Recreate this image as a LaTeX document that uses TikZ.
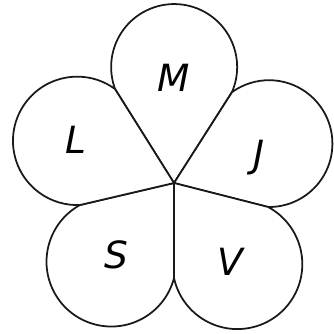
\documentclass[tikz,border=0pt]{standalone}
\usepackage{fontspec}
\usepackage{tikz}
\usetikzlibrary{calc}
\newfontfamily\petalfont{DejaVu Sans}
\definecolor{petalink}{RGB}{25, 25, 25}

\begin{document}
\begin{tikzpicture}[x=0.03cm, y=0.03cm,
    petal/.style={draw=petalink, line width=1.5pt, line join=round, fill=white},
    letter/.style={font=\petalfont\itshape\fontsize{32}{36}\selectfont, text=black, inner sep=0pt}]
    \useasboundingbox (0,0) rectangle (334,333);

    % heart of the flower and the cusps between petals
    \coordinate (C)  at (174,150);
    \coordinate (ML) at (115,244);
    \coordinate (MJ) at (232,241);
    \coordinate (JV) at (268,126);
    \coordinate (VS) at (174,55);
    \coordinate (SL) at (80,128);

    % petals
    \draw[petal] (C) -- (MJ) arc[start angle=-23.3, end angle=200.4, radius=63] -- cycle;
    \draw[petal] (C) -- (JV) arc[start angle=-90.9, end angle=125.6, radius=63.4] -- cycle;
    \draw[petal] (C) -- (VS) arc[start angle=-167.7, end angle=61.9, radius=64.9] -- cycle;
    \draw[petal] (C) -- (SL) arc[start angle=118.9, end angle=345.6, radius=64.8] -- cycle;
    \draw[petal] (C) -- (ML) arc[start angle=53.9, end angle=272.5, radius=64.2] -- cycle;

    % labels
    \node[letter] (m) at (174,255) {M};
    \node[letter] (j) at (259,175) {J};
    \node[letter] (v) at (230,71)  {V};
    \node[letter] (s) at (116,78)  {S};
    \node[letter] (l) at (76,193)  {L};
\end{tikzpicture}
\end{document}
